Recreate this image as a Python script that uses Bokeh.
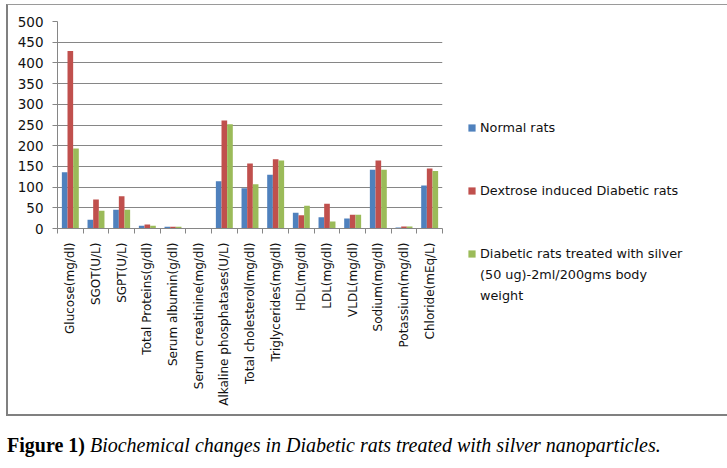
import math
from bokeh.plotting import figure
from bokeh.layouts import column
from bokeh.models import Range1d, FixedTicker, Legend, LegendItem, Div
from bokeh.core.properties import value
from bokeh.embed import file_html
from bokeh.resources import INLINE

categories = ["Glucose(mg/dl)", "SGOT(U/L)", "SGPT(U/L)", "Total Proteins(g/dl)",
              "Serum albumin(g/dl)", "Serum creatinine(mg/dl)", "Alkaline phosphatases(U/L)",
              "Total cholesterol(mg/dl)", "Triglycerides(mg/dl)", "HDL(mg/dl)", "LDL(mg/dl)",
              "VLDL(mg/dl)", "Sodium(mg/dl)", "Potassium(mg/dl)", "Chloride(mEq/L)"]
normal = [136, 21, 45, 6.5, 4, 0.8, 114, 97, 130, 38, 27, 24, 142, 2.5, 104]
diabetic = [429, 70, 78, 9.5, 4, 1.0, 261, 157, 167, 32, 60, 33, 164, 5, 145]
treated = [193, 43, 45, 6.5, 4, 0.7, 252, 107, 164, 55, 17, 33, 142, 5, 139]
series_names = ["Normal rats", "Dextrose induced Diabetic rats",
                "Diabetic rats treated with silver"]
legend_extra = ["(50 ug)-2ml/200gms body", "weight"]
y_ticks = list(range(0, 501, 50))
caption_head = "Figure 1)"
caption_body = "Biochemical changes in Diabetic rats treated with silver nanoparticles."

colors = ["#4F81BD", "#C0504D", "#9BBB59"]
GRAY = "#868686"
FONT = "DejaVu Sans"

p = figure(width=693, height=409, frame_width=385, frame_height=207,
           output_backend="svg", toolbar_location=None,
           x_range=Range1d(0.5, len(categories) + 0.5), y_range=Range1d(0, 500),
           min_border_left=49, min_border_right=236, min_border_top=16, min_border_bottom=186)
p.outline_line_color = None
p.background_fill_color = "white"
p.border_fill_color = "white"

xs = list(range(1, len(categories) + 1))
bw = 0.22
renderers = []
for k, (vals, c) in enumerate(zip([normal, diabetic, treated], colors)):
    off = (k - 1) * bw
    r = p.vbar(x=[x + off for x in xs], top=vals, width=bw, bottom=0,
               fill_color=c, line_color=None)
    renderers.append(r)

xa = p.xaxis[0]
xa.ticker = FixedTicker(ticks=xs, minor_ticks=[x + 0.5 for x in range(0, len(categories) + 1)])
xa.major_label_overrides = {x: c for x, c in zip(xs, categories)}
xa.major_label_orientation = math.pi / 2
xa.major_tick_line_color = None
xa.minor_tick_line_color = GRAY
xa.minor_tick_in = 0
xa.minor_tick_out = 5
xa.axis_line_color = GRAY
xa.major_label_standoff = 8
xa.major_label_text_font = FONT
xa.major_label_text_font_size = "12px"
xa.major_label_text_color = "#111111"

ya = p.yaxis[0]
ya.ticker = FixedTicker(ticks=y_ticks)
ya.minor_tick_line_color = None
ya.major_tick_line_color = GRAY
ya.major_tick_in = 0
ya.major_tick_out = 5
ya.axis_line_color = GRAY
ya.major_label_standoff = 9
ya.major_label_text_font = FONT
ya.major_label_text_font_size = "13.5px"
ya.major_label_text_color = "#111111"

p.xgrid.grid_line_color = None
p.ygrid.ticker = FixedTicker(ticks=y_ticks)
p.ygrid.grid_line_color = GRAY
p.ygrid.grid_line_width = 1

items = []
for i, (n, r) in enumerate(zip(series_names, renderers)):
    items.append(LegendItem(label=value(n), renderers=[r]))
    if i < 2:
        items.append(LegendItem(label=value(" "), renderers=[]))
        items.append(LegendItem(label=value(" "), renderers=[]))
for t in legend_extra:
    items.append(LegendItem(label=value(t), renderers=[]))

legend = Legend(items=items, location=(25, -76), padding=0, margin=0, border_line_color=None,
                background_fill_alpha=0, glyph_width=9, glyph_height=9, label_height=17,
                spacing=4, label_standoff=4, label_text_font=FONT,
                label_text_font_size="12.8px", label_text_color="#111111")
p.add_layout(legend, "right")

boxed = column(p, margin=(4, 0, 0, 6),
               styles={"border-left": "2px solid #808080", "border-right": "2px solid #808080",
                       "border-bottom": "2px solid #808080", "border-top": "1px solid #9a9a9a"})

caption = Div(text=f"<b>{caption_head}</b> <i>{caption_body}</i>", width=720, height=36,
              margin=(15, 0, 0, 7),
              styles={"font-family": "Liberation Serif", "font-size": "20px", "color": "black",
                      "white-space": "nowrap"})

layout = column(boxed, caption)
open("out.html", "w").write(file_html(layout, INLINE))
